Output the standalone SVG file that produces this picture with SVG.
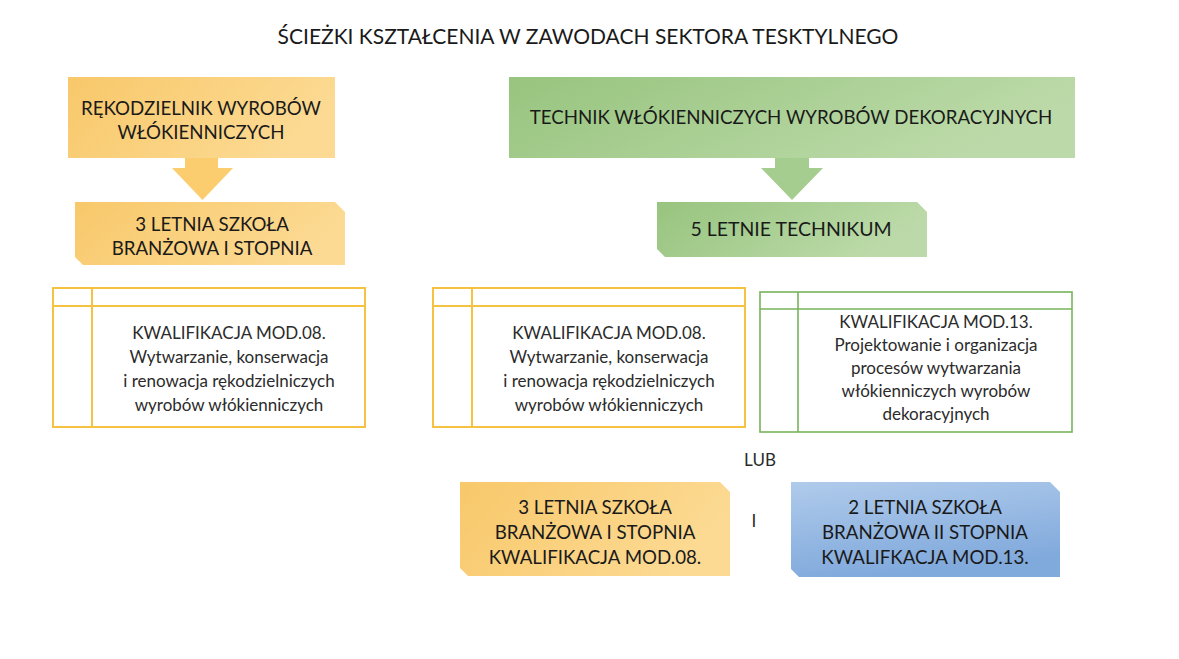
<svg xmlns="http://www.w3.org/2000/svg" width="1179" height="659" viewBox="0 0 1179 659">
<defs>
<linearGradient id="gOr" x1="0" y1="0" x2="1" y2="0.3">
<stop offset="0" stop-color="#f8c86a"/>
<stop offset="1" stop-color="#fcda93"/>
</linearGradient>
<linearGradient id="gGr" x1="0" y1="0" x2="1" y2="0.3">
<stop offset="0" stop-color="#97c47e"/>
<stop offset="1" stop-color="#bcdaa9"/>
</linearGradient>
<linearGradient id="gBl" x1="0" y1="0" x2="0.3" y2="1">
<stop offset="0" stop-color="#b0cbeb"/>
<stop offset="1" stop-color="#80a9dc"/>
</linearGradient>
<style>
text{font-family:Lato,"Liberation Sans","Noto Sans",sans-serif;fill:#1a1a1a;text-anchor:middle}
.h{font-size:18.7px}
.t{font-size:17px;fill:#2b2b2b}
.tbo{fill:#ffffff;stroke:#f5c242;stroke-width:2}
.tbg{fill:#ffffff;stroke:#78b35a;stroke-width:1.6}
</style>
</defs>
<rect width="1179" height="659" fill="#ffffff"/>
<text x="588" y="44" style="font-size:21px" id="title">ŚCIEŻKI KSZTAŁCENIA W ZAWODACH SEKTORA TESKTYLNEGO</text>

<g id="n-rekodzielnik">
<rect x="68" y="77" width="267" height="81" fill="url(#gOr)"/>
<text class="h" x="201" y="115">RĘKODZIELNIK WYROBÓW</text>
<text class="h" x="201" y="139">WŁÓKIENNICZYCH</text>
</g>

<g id="n-technik">
<rect x="509" y="77" width="566" height="81" fill="url(#gGr)"/>
<text class="h" x="791" y="124">TECHNIK WŁÓKIENNICZYCH WYROBÓW DEKORACYJNYCH</text>
</g>

<g id="connectors">
<polygon points="185,158 218,158 218,168 233,168 202.5,200 172,168 185,168" fill="#fbcd6f"/>
<polygon points="775,158 809,158 809,168 823,168 792,200 761,168 775,168" fill="#a6cd90"/>
</g>

<g id="n-szkola1">
<path d="M75,202 H335 L345,212 V265 H83 L75,257 Z" fill="url(#gOr)"/>
<text class="h" x="212" y="231">3 LETNIA SZKOŁA</text>
<text class="h" x="212" y="255">BRANŻOWA I STOPNIA</text>
</g>

<g id="n-technikum">
<path d="M657,202 H917 L927,212 V257 H665 L657,249 Z" fill="url(#gGr)"/>
<text x="791" y="236" style="font-size:19.5px">5 LETNIE TECHNIKUM</text>
</g>

<g id="n-kwal1">
<rect class="tbo" x="53" y="288" width="312" height="139"/>
<line x1="53" y1="306" x2="365" y2="306" stroke="#f5c242" stroke-width="2"/>
<line x1="92" y1="288" x2="92" y2="427" stroke="#f5c242" stroke-width="2"/>
<text class="t" x="229" y="339">KWALIFIKACJA MOD.08.</text>
<text class="t" x="229" y="363">Wytwarzanie, konserwacja</text>
<text class="t" x="229" y="387">i renowacja rękodzielniczych</text>
<text class="t" x="229" y="411">wyrobów włókienniczych</text>
</g>

<g id="n-kwal2">
<rect class="tbo" x="433" y="288" width="312" height="139"/>
<line x1="433" y1="306" x2="745" y2="306" stroke="#f5c242" stroke-width="2"/>
<line x1="472" y1="288" x2="472" y2="427" stroke="#f5c242" stroke-width="2"/>
<text class="t" x="609" y="339">KWALIFIKACJA MOD.08.</text>
<text class="t" x="609" y="363">Wytwarzanie, konserwacja</text>
<text class="t" x="609" y="387">i renowacja rękodzielniczych</text>
<text class="t" x="609" y="411">wyrobów włókienniczych</text>
</g>

<g id="n-kwal3">
<rect class="tbg" x="760" y="292" width="312" height="140"/>
<line x1="760" y1="309" x2="1072" y2="309" stroke="#78b35a" stroke-width="1.6"/>
<line x1="798" y1="292" x2="798" y2="432" stroke="#78b35a" stroke-width="1.6"/>
<text class="t" x="936" y="328">KWALIFIKACJA MOD.13.</text>
<text class="t" x="936" y="351">Projektowanie i organizacja</text>
<text class="t" x="936" y="374">procesów wytwarzania</text>
<text class="t" x="936" y="397">włókienniczych wyrobów</text>
<text class="t" x="936" y="420">dekoracyjnych</text>
</g>

<g id="n-lub">
<text class="t" x="760" y="466">LUB</text>
</g>

<g id="n-szkola3">
<path d="M460,482 H720 L730,492 V576 H468 L460,568 Z" fill="url(#gOr)"/>
<text class="h" x="595" y="514">3 LETNIA SZKOŁA</text>
<text class="h" x="595" y="539">BRANŻOWA I STOPNIA</text>
<text class="h" x="595" y="564">KWALIFIKACJA MOD.08.</text>
</g>

<g id="n-i">
<text class="t" x="754" y="527">I</text>
</g>

<g id="n-szkola2">
<path d="M791,482 H1050 L1060,492 V577 H799 L791,569 Z" fill="url(#gBl)"/>
<text class="h" x="925" y="514">2 LETNIA SZKOŁA</text>
<text class="h" x="925" y="539">BRANŻOWA II STOPNIA</text>
<text class="h" x="925" y="564">KWALIFKACJA MOD.13.</text>
</g>
</svg>
